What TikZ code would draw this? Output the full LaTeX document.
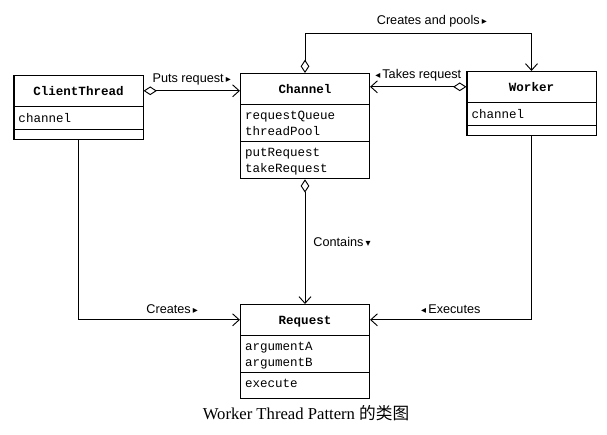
\documentclass[tikz,border=0pt]{standalone}
\usepackage{fontspec}
\setmainfont{Liberation Serif}
\setsansfont{Liberation Sans}
\setmonofont{Liberation Mono}
\newfontfamily\symfont{DejaVu Sans}
\newfontfamily\cjk{Noto Sans CJK SC}
\usepackage{tikz}
\usetikzlibrary{arrows.meta,positioning,shapes.multipart,calc}
\newcommand{\rtri}{\,{\symfont\fontsize{7.5}{7.5}\selectfont ▸}}
\newcommand{\ltri}{{\symfont\fontsize{7.5}{7.5}\selectfont ◂}\,}
\newcommand{\dtri}{\,{\symfont\fontsize{7.5}{7.5}\selectfont ▾}}
\newcommand{\titlestrut}{\rule[-8pt]{0pt}{22.5pt}}
\newcommand{\rowstrut}{\rule[-5pt]{0pt}{16.5pt}}
\newcommand{\firststrut}{\rule{0pt}{10.5pt}}
\newcommand{\laststrut}{\rule[-4.5pt]{0pt}{0pt}}
\newcommand{\clsname}[1]{\titlestrut\makebox[\linewidth][c]{\textbf{#1}}}
\tikzset{
  classbox/.style={
    draw, line width=0.8pt, rectangle split, rectangle split parts=3,
    text width=90pt, inner xsep=3.4pt, inner ysep=0pt, align=left,
    anchor=north, font=\ttfamily\fontsize{9.4}{12}\selectfont},
  assocarrow/.style={
    -{Straight Barb[length=5pt,width=9pt]}, line width=0.7pt},
  aggarrow/.style={
    {Diamond[open,length=10pt,width=6.5pt]}-{Straight Barb[length=5pt,width=9pt]},
    line width=0.7pt},
  assoclabel/.style={font=\sffamily\fontsize{9.5}{11}\selectfont, inner sep=2pt},
}

\begin{document}
\begin{tikzpicture}[x=0.75pt, y=-0.75pt]
  \useasboundingbox (0,0) rectangle (607,435);
  % classes
  \node[classbox] (client) at (78.5,75)
    {\clsname{ClientThread}
     \nodepart{two}\rowstrut channel
     \nodepart{three}\rule{0pt}{6.75pt}};
  \node[classbox] (channel) at (305,73)
    {\clsname{Channel}
     \nodepart{two}\firststrut requestQueue\\threadPool\laststrut
     \nodepart{three}\firststrut putRequest\\takeRequest\laststrut};
  \node[classbox] (worker) at (531.5,71)
    {\clsname{Worker}
     \nodepart{two}\rowstrut channel
     \nodepart{three}\rule{0pt}{6.75pt}};
  \node[classbox] (request) at (305,304)
    {\clsname{Request}
     \nodepart{two}\firststrut argumentA\\argumentB\laststrut
     \nodepart{three}\rule[-8pt]{0pt}{18.75pt}execute};

  % ends at the title rows
  \coordinate (clientmid) at ($(client.north east)!0.5!(client.text split east)$);
  \coordinate (workermid) at ($(worker.north west)!0.5!(worker.text split west)$);
  \coordinate (requestw) at ($(request.north west)!0.5!(request.text split west)$);
  \coordinate (requeste) at ($(request.north east)!0.5!(request.text split east)$);

  % associations
  \draw[aggarrow] (clientmid) -- (channel.west |- clientmid)
    node[assoclabel, midway, above=2pt] {Puts request\rtri};
  \draw[aggarrow] (workermid) -- (channel.east |- workermid)
    node[assoclabel, midway, above=2pt] {\ltri Takes request};
  \draw[aggarrow] (channel.north) -- ++(0,-40) -| (worker.north)
    node[assoclabel, pos=0.28, above=2pt] {Creates and pools\rtri};
  \draw[aggarrow] (channel.south) -- (request.north)
    node[assoclabel, midway, right=4pt] {Contains\dtri};
  \draw[assocarrow] (client.south) |- (requestw)
    node[assoclabel, pos=0.79, above=2pt] {Creates\rtri};
  \draw[assocarrow] (worker.south) |- (requeste)
    node[assoclabel, pos=0.75, above=2pt] {\ltri Executes};

  \node[font=\rmfamily\fontsize{12.5}{14}\selectfont] (caption) at (306,413)
    {Worker Thread Pattern {\cjk 的类图}};
\end{tikzpicture}
\end{document}
